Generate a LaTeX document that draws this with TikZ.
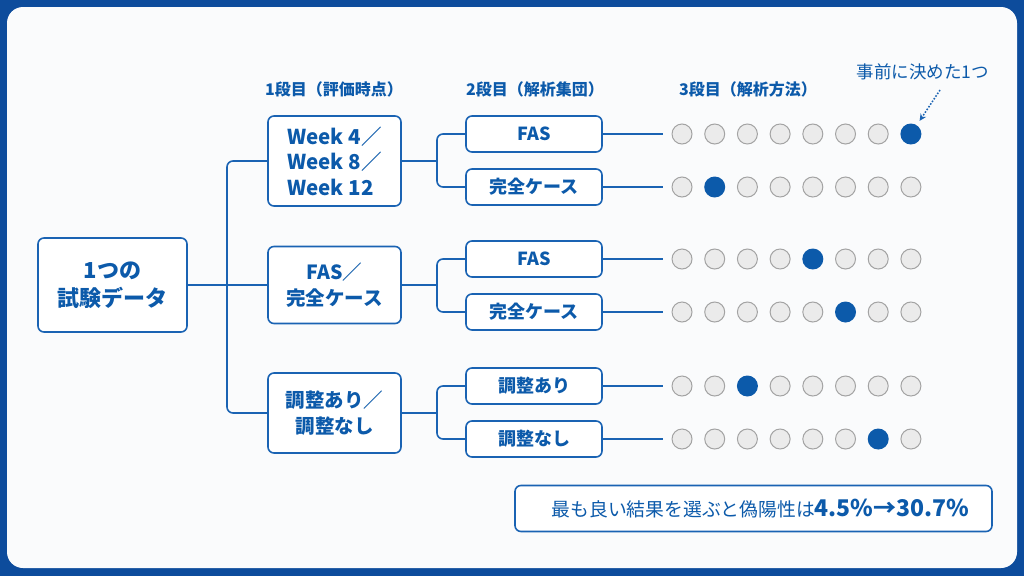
\documentclass[tikz,border=0pt]{standalone}
\usepackage{fontspec}
\setmainfont{Noto Sans CJK JP}
\usetikzlibrary{arrows.meta}
\definecolor{bgblue}{HTML}{0D4C9C}
\definecolor{mainblue}{HTML}{0C5AAA}
\definecolor{lineblue}{HTML}{1A63B3}
\definecolor{dotgray}{HTML}{EBEBEB}
\definecolor{dotedge}{HTML}{A3A3A3}
\definecolor{panel}{HTML}{FAFBFC}
\begin{document}
\begin{tikzpicture}[x=1pt,y=-1pt,
 box/.style={draw=lineblue, line width=1.6pt, rounded corners=6pt, fill=white, text=mainblue, align=center, inner sep=0pt},
 conn/.style={draw=lineblue, line width=1.6pt, rounded corners=6pt},
 dot/.style={circle, draw=dotedge, line width=1pt, fill=dotgray, minimum size=20pt, inner sep=0pt},
 seldot/.style={circle, fill=mainblue, minimum size=21pt, inner sep=0pt},
 head/.style={text=mainblue, font=\bfseries\fontsize{16}{18}\selectfont},
 lone/.style={box, minimum width=133pt, font=\bfseries\fontsize{19.5}{26}\selectfont},
 ltwo/.style={box, minimum width=136pt, minimum height=36pt, font=\bfseries\fontsize{18}{22}\selectfont},
]
\useasboundingbox (0,0) rectangle (1024,576);
\fill[bgblue] (0,0) rectangle (1024,576);
\fill[panel, rounded corners=16pt] (7,7) rectangle (1017,568);

% headers
\node[head] (h1) at (334,89) {1段目（評価時点）};
\node[head] (h2) at (535,89) {2段目（解析集団）};
\node[head] (h3) at (748,89) {3段目（解析方法）};

% root
\node[box, minimum width=149pt, minimum height=94pt, font=\bfseries\fontsize{22}{28}\selectfont] (root) at (112.5,285) {1つの\\試験データ};

% level 1
\node[lone, minimum height=90pt, align=left, font=\bfseries\fontsize{20.5}{25.5}\selectfont] (l1a) at (334.5,161) {Week 4／\\Week 8／\\Week 12};
\node[lone, minimum height=77pt] (l1b) at (334.5,285) {FAS／\\完全ケース};
\node[lone, minimum height=80pt] (l1c) at (334.5,413) {調整あり／\\調整なし};

% level 2
\node[ltwo] (l2-1) at (534,134) {FAS};
\node[ltwo] (l2-2) at (534,187) {完全ケース};
\node[ltwo] (l2-3) at (534,259) {FAS};
\node[ltwo] (l2-4) at (534,312) {完全ケース};
\node[ltwo] (l2-5) at (534,386) {調整あり};
\node[ltwo] (l2-6) at (534,439) {調整なし};

% connectors level 0 -> 1
\coordinate (t) at (227,285);
\draw[conn] (root.east) -- (l1b.west);
\draw[conn] (l1a.west) -| (t) |- (l1c.west);

% connectors level 1 -> 2
\coordinate (ja) at (437,161);
\coordinate (jb) at (437,285);
\coordinate (jc) at (437,413);
\draw[conn] (l1a.east) -- (ja);
\draw[conn] (l2-1.west) -| (ja) |- (l2-2.west);
\draw[conn] (l1b.east) -- (jb);
\draw[conn] (l2-3.west) -| (jb) |- (l2-4.west);
\draw[conn] (l1c.east) -- (jc);
\draw[conn] (l2-5.west) -| (jc) |- (l2-6.west);

% dots
\foreach \r/\y/\s in {1/134/8, 2/187/2, 3/259/5, 4/312/6, 5/386/3, 6/439/7} {
  \foreach \i in {1,...,8} {
    \pgfmathsetmacro\xx{682+32.7*(\i-1)}
    \ifnum\i=\s
      \node[seldot] (d\r-\i) at (\xx,\y) {};
    \else
      \node[dot] (d\r-\i) at (\xx,\y) {};
    \fi
  }
  \draw[conn, shorten >=9pt] (l2-\r.east) -- (d\r-1.west);
}

% annotation
\node[text=mainblue, font=\fontsize{17.5}{20}\selectfont] (ann) at (923,72) {事前に決めた1つ};
\coordinate (arrs) at (940,90);
\draw[lineblue, line width=1.5pt, dash pattern=on 1.6pt off 1.6pt, -{Stealth[length=7pt,width=6.5pt]}, shorten >=5pt] (arrs) -- (d1-8);

% result
\node[box, minimum width=477pt, minimum height=46pt, font=\fontsize{18.8}{22}\selectfont] (res) at (753.5,508.5) {\hspace*{14pt}最も良い結果を選ぶと偽陽性は{\bfseries\fontsize{23}{24}\selectfont 4.5\%→30.7\%}};
\end{tikzpicture}
\end{document}
